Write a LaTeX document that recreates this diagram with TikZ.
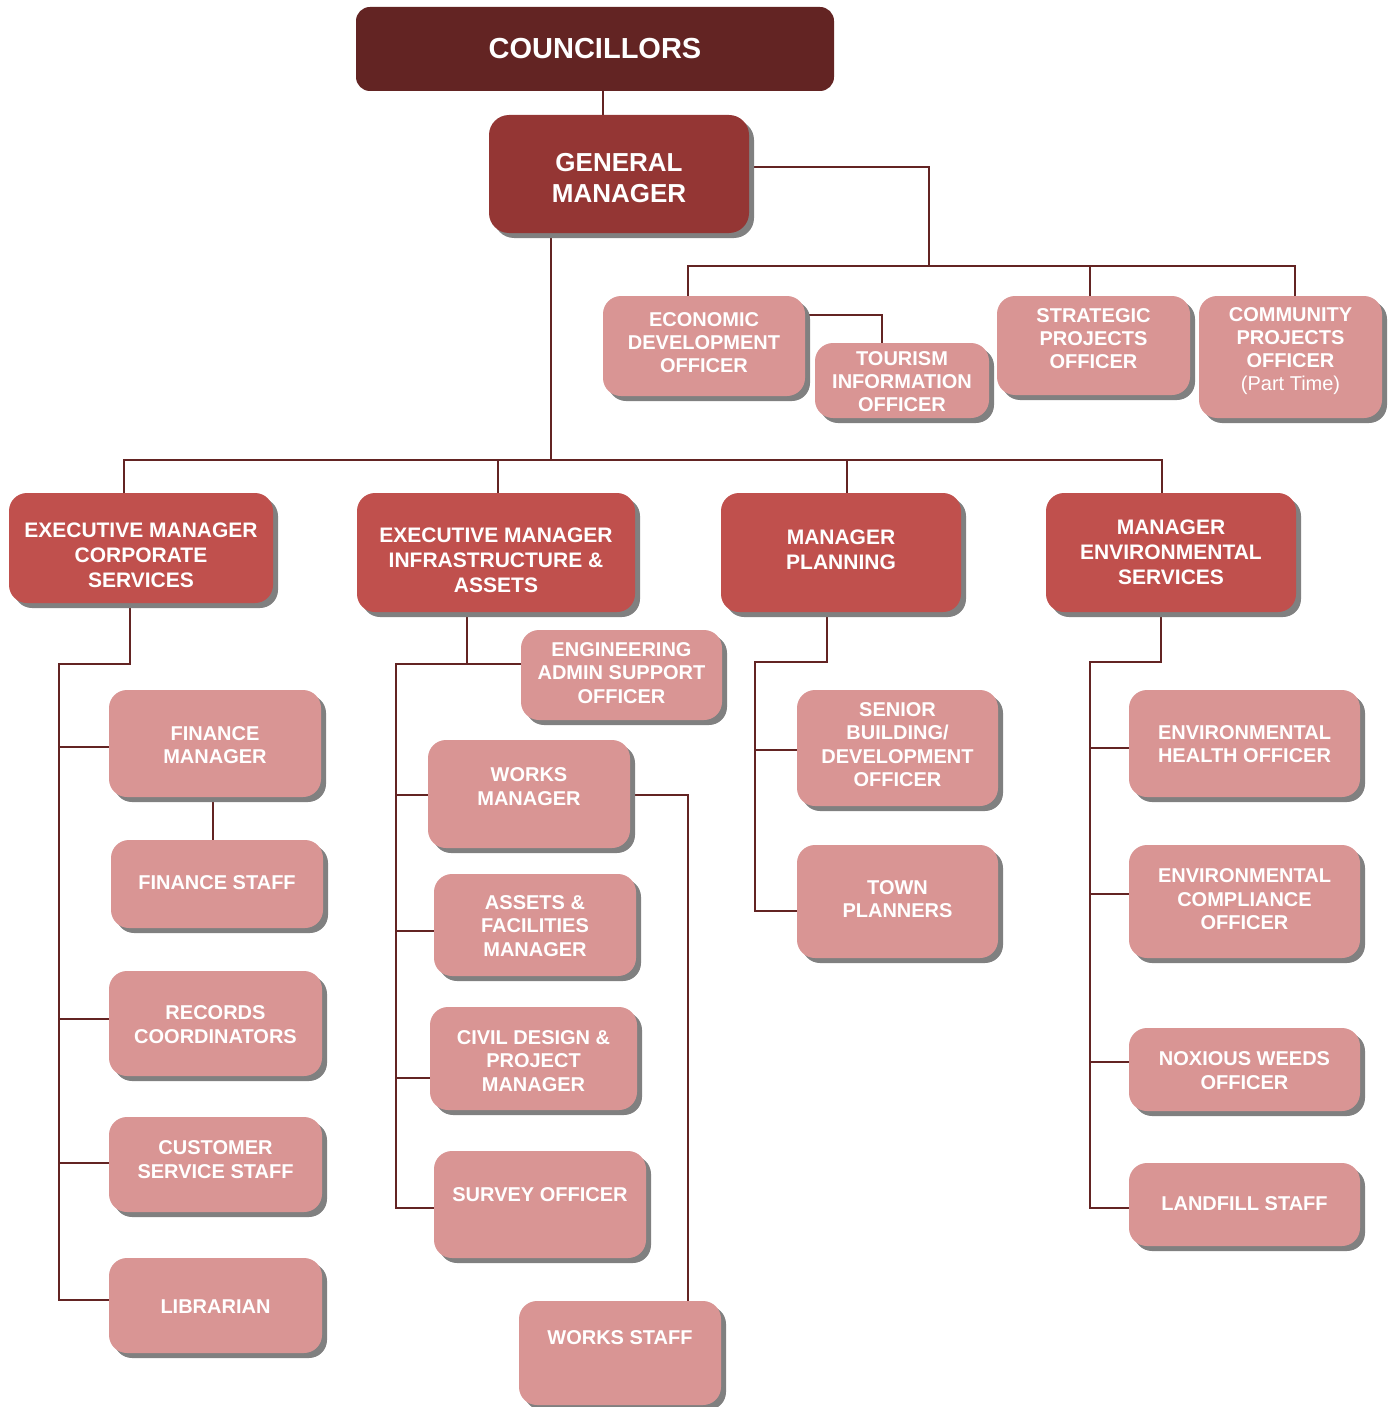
\documentclass[tikz,border=0pt]{standalone}
\usepackage{fontspec}
\setmainfont{Liberation Sans}
\usetikzlibrary{shadows}
\usetikzlibrary{backgrounds}
\definecolor{councilred}{HTML}{632423}
\definecolor{gmred}{HTML}{943634}
\definecolor{mgrred}{HTML}{C0504D}
\definecolor{staffpink}{HTML}{D99594}
\definecolor{linkred}{HTML}{632423}
\definecolor{shadowgrey}{HTML}{808080}

\tikzset{
  postshadow/.style={drop shadow={shadow xshift=5pt, shadow yshift=-5pt, fill=shadowgrey, opacity=1}},
  council/.style={fill=councilred, rounded corners=14pt, inner sep=0pt, text=white,
    font=\bfseries\fontsize{29}{34}\selectfont},
  gmbox/.style={fill=gmred, rounded corners=20pt, inner sep=0pt, postshadow},
  mgrbox/.style={fill=mgrred, rounded corners=18pt, inner sep=0pt, postshadow},
  officer/.style={fill=staffpink, rounded corners=18pt, inner sep=0pt, postshadow},
  staff/.style={fill=staffpink, rounded corners=18pt, inner sep=0pt, postshadow},
  gmtext/.style={text=white, align=center, font=\bfseries\fontsize{26}{31}\selectfont},
  mgrtext/.style={text=white, align=center, font=\bfseries\fontsize{21}{25}\selectfont},
  officertext/.style={text=white, align=center, font=\bfseries\fontsize{20}{23}\selectfont},
  stafftext/.style={text=white, align=center, font=\bfseries\fontsize{20}{23.5}\selectfont},
  link/.style={draw=linkred, line width=2.4pt}
}

\begin{document}
\begin{tikzpicture}[x=1pt,y=-1pt]
  \useasboundingbox (0,0) rectangle (1394,1407);

  % top of the chart
  \node[council, minimum width=478pt, minimum height=84pt] (councillors) at (595,49) {COUNCILLORS};
  \node[gmbox, minimum width=260pt, minimum height=118pt] (gm) at (619,174) {}
    node[gmtext] (gm-t) at (619,178.5) {GENERAL\\MANAGER};

  % officers reporting to the general manager
  \foreach \nm/\x/\y/\w/\h/\ty/\txt in {
      econ/704/346/202/100/343/{ECONOMIC\\DEVELOPMENT\\OFFICER},
      tourism/902/380.5/174/75/382/{TOURISM\\INFORMATION\\OFFICER},
      strategic/1093.5/345.5/193/99/339/{STRATEGIC\\PROJECTS\\OFFICER},
      community/1290.5/357/183/122/351/{COMMUNITY\\PROJECTS\\OFFICER\\{\mdseries (Part Time)}}}
    \node[officer, minimum width=\w pt, minimum height=\h pt] (\nm) at (\x,\y) {}
      node[officertext] (\nm-t) at (\x,\ty) {\txt};

  % managers
  \foreach \nm/\x/\y/\w/\h/\ty/\txt in {
      corp/141/548/264/110/555/{EXECUTIVE MANAGER\\CORPORATE\\SERVICES},
      infra/496/552.5/278/119/560/{EXECUTIVE MANAGER\\INFRASTRUCTURE \&\\ASSETS},
      planning/841/552.5/240/119/550/{MANAGER\\PLANNING},
      env/1171/552.5/250/119/552/{MANAGER\\ENVIRONMENTAL\\SERVICES}}
    \node[mgrbox, minimum width=\w pt, minimum height=\h pt] (\nm) at (\x,\y) {}
      node[mgrtext] (\nm-t) at (\x,\ty) {\txt};

  % staff
  \foreach \nm/\x/\y/\w/\h/\ty/\txt in {
      finmgr/215/743.5/212/107/745/{FINANCE\\MANAGER},
      finstaff/217/884/212/88/883/{FINANCE STAFF},
      records/215.5/1023.5/213/105/1024.5/{RECORDS\\COORDINATORS},
      customer/215.5/1164.5/213/95/1159.5/{CUSTOMER\\SERVICE STAFF},
      librarian/215.5/1305.5/213/95/1307/{LIBRARIAN},
      engadmin/621.5/675/201/90/673/{ENGINEERING\\ADMIN SUPPORT\\OFFICER},
      worksmgr/529/794/202/108/786.5/{WORKS\\MANAGER},
      assets/535/925/202/102/926/{ASSETS \&\\FACILITIES\\MANAGER},
      civil/533.5/1058.5/207/103/1061/{CIVIL DESIGN \&\\PROJECT\\MANAGER},
      survey/540/1204.5/212/107/1195/{SURVEY OFFICER},
      worksstaff/620/1353/202/104/1338/{WORKS STAFF},
      senior/897.5/748/201/116/744.5/{SENIOR\\BUILDING/\\DEVELOPMENT\\OFFICER},
      town/897.5/901.5/201/113/899/{TOWN\\PLANNERS},
      health/1244.5/743.5/231/107/744/{ENVIRONMENTAL\\HEALTH OFFICER},
      compliance/1244.5/901.5/231/113/899.5/{ENVIRONMENTAL\\COMPLIANCE\\OFFICER},
      noxious/1244.5/1069.5/231/83/1070.5/{NOXIOUS WEEDS\\OFFICER},
      landfill/1244.5/1204.5/231/83/1204/{LANDFILL STAFF}}
    \node[staff, minimum width=\w pt, minimum height=\h pt] (\nm) at (\x,\y) {}
      node[stafftext] (\nm-t) at (\x,\ty) {\txt};

  \begin{scope}[on background layer]
    % councillors to general manager
    \draw[link] (councillors.south -| 603,0) -- (gm.north -| 603,0);
    % general manager to the officers
    \coordinate (offbus) at (929,266);
    \draw[link] (gm.east |- 0,167) -| (offbus);
    \draw[link] (econ.north -| 688,0) |- (offbus) -| (community.north -| 1295,0);
    \draw[link] (strategic.north -| 1090,0) -- (offbus -| 1090,0);
    \draw[link] (econ.east |- 0,315) -| (tourism.north -| 882,0);

    % general manager to the managers
    \coordinate (mgrbus) at (551,460);
    \draw[link] (gm.south -| mgrbus) -- (mgrbus);
    \draw[link] (corp.north -| 124,0) |- (mgrbus) -| (env.north -| 1162,0);
    \draw[link] (infra.north -| 498,0) -- (mgrbus -| 498,0);
    \draw[link] (planning.north -| 847,0) -- (mgrbus -| 847,0);

    % corporate services
    \coordinate (corpspine) at (59,664);
    \draw[link] (corp.south -| 130,0) |- (corpspine) |- (librarian.west |- 0,1300);
    \foreach \nm/\y in {finmgr/747, records/1019, customer/1163}
      \draw[link] (corpspine |- 0,\y) -- (\nm.west |- 0,\y);
    \draw[link] (finmgr.south -| 213,0) -- (finstaff.north -| 213,0);

    % infrastructure and assets
    \coordinate (infraspine) at (396,664);
    \draw[link] (infra.south -| 467,0) -- (infraspine -| 467,0);
    \draw[link] (engadmin.west |- infraspine) -- (infraspine) |- (survey.west |- 0,1208);
    \foreach \nm/\y in {worksmgr/795, assets/931, civil/1078}
      \draw[link] (infraspine |- 0,\y) -- (\nm.west |- 0,\y);
    \draw[link] (worksmgr.east |- 0,795) -| (worksstaff.north -| 688,0);

    % planning
    \coordinate (planspine) at (755,662);
    \draw[link] (planning.south -| 827,0) |- (planspine) |- (town.west |- 0,911);
    \draw[link] (planspine |- 0,750) -- (senior.west |- 0,750);

    % environmental services
    \coordinate (envspine) at (1090,662);
    \draw[link] (env.south -| 1161,0) |- (envspine) |- (landfill.west |- 0,1208);
    \foreach \nm/\y in {health/748, compliance/894, noxious/1062}
      \draw[link] (envspine |- 0,\y) -- (\nm.west |- 0,\y);
  \end{scope}
\end{tikzpicture}
\end{document}
